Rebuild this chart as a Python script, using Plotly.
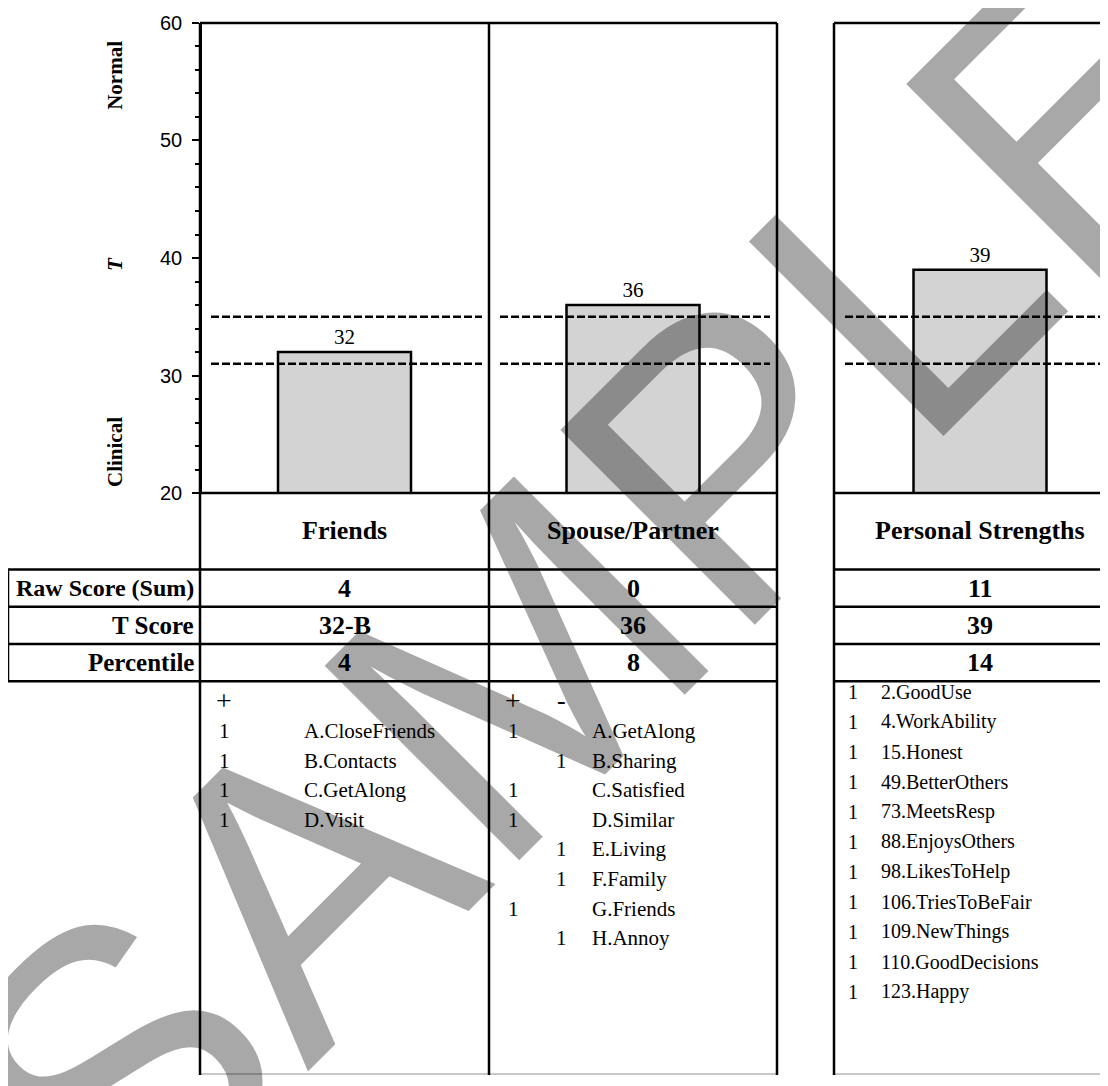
import plotly.graph_objects as go

# ---------------- data ----------------
categories = ["Friends", "Spouse/Partner", "Personal Strengths"]
t_scores = [32, 36, 39]
raw_scores = ["4", "0", "11"]
t_score_labels = ["32-B", "36", "39"]
percentiles = ["4", "8", "14"]
row_labels = ["Raw Score (Sum)", "T Score", "Percentile"]

upper_cut = 35
lower_cut = 31

friends_items = ["A.CloseFriends", "B.Contacts", "C.GetAlong", "D.Visit"]
friends_plus = ["1", "1", "1", "1"]

spouse_items = ["A.GetAlong", "B.Sharing", "C.Satisfied", "D.Similar",
                "E.Living", "F.Family", "G.Friends", "H.Annoy"]
spouse_plus = ["1", "", "1", "1", "", "", "1", ""]
spouse_minus = ["", "1", "", "", "1", "1", "", "1"]

strength_items = ["2.GoodUse", "4.WorkAbility", "15.Honest", "49.BetterOthers",
                  "73.MeetsResp", "88.EnjoysOthers", "98.LikesToHelp",
                  "106.TriesToBeFair", "109.NewThings", "110.GoodDecisions",
                  "123.Happy"]
strength_vals = ["1", "1", "1", "1", "1", "1", "1", "1", "1", "1", "1"]

# ---------------- layout constants (page pixels) ----------------
PAGE_W, PAGE_H = 1108, 1086
OFF = 8                      # default body margin of the html page
FIG_W, FIG_H = PAGE_W - OFF, PAGE_H - OFF
PANELS = [(200, 489), (489, 777), (834, 1126)]
Y_TOP, Y_BOT = 12, 492
ROW_LINES = [570, 608, 646, 684]
HEADER_Y = 530
LIST_BOTTOM = 1085
LABEL_LEFT = 8

SERIF = "Liberation Serif"
SANS = "Liberation Sans"


def px(x):
    return (x - OFF) / FIG_W


def py(y):
    return 1 - (y - OFF) / FIG_H


centers = [(a + b) / 2 for a, b in PANELS]

fig = go.Figure()
fig.add_trace(go.Bar(
    x=centers, y=t_scores, width=133,
    marker=dict(color="#d3d3d3", line=dict(color="black", width=2.5)),
    texttemplate="%{y}", textposition="outside",
    textfont=dict(family=SERIF, size=21, color="black"),
    hoverinfo="skip", showlegend=False,
))

shapes = []
BLACK = dict(color="black", width=2.5)


def hline(x0, x1, y, line=BLACK):
    shapes.append(dict(type="line", xref="paper", yref="paper",
                       x0=px(x0), x1=px(min(x1, PAGE_W)), y0=py(y), y1=py(y), line=line))


def vline(x, y0, y1, line=BLACK):
    shapes.append(dict(type="line", xref="paper", yref="paper",
                       x0=px(x), x1=px(x), y0=py(y0), y1=py(y1), line=line))


for a, b in PANELS:
    for y in [Y_TOP, Y_BOT] + ROW_LINES:
        hline(a, b, y)
    hline(a, b, LIST_BOTTOM, dict(color="#c8c8c8", width=2))
    for cut in (upper_cut, lower_cut):
        shapes.append(dict(type="line", xref="paper", yref="y",
                           x0=px(a + 11), x1=px(min(b - 7, PAGE_W)), y0=cut, y1=cut,
                           line=dict(color="black", width=2.5, dash="8px,3px")))

for x in [200, 489, 777, 834]:
    vline(x, Y_TOP, PAGE_H)

# row label box
for y in ROW_LINES:
    hline(LABEL_LEFT, 200, y)
vline(LABEL_LEFT, ROW_LINES[0], ROW_LINES[-1])

ann = []


def text(x, y, s, size, xanchor="center", family=SERIF, bold=False, angle=0):
    if bold:
        s = "<b>" + s + "</b>"
    ann.append(dict(xref="paper", yref="paper", x=px(x), y=py(y), text=s,
                    showarrow=False, xanchor=xanchor, yanchor="middle",
                    textangle=angle,
                    font=dict(family=family, size=size, color="black")))


# axis side labels
text(115, 66, "Normal", 21, bold=True, angle=-90)
text(115, 258, "<i>T</i>", 21, bold=True, angle=-90)
text(115, 450, "Clinical", 21, bold=True, angle=-90)

# headers and values
row_centers = [(ROW_LINES[i] + ROW_LINES[i + 1]) / 2 for i in range(3)]
for i, c in enumerate(centers):
    text(c, HEADER_Y, categories[i], 26, bold=True)
    for j, vals in enumerate([raw_scores, t_score_labels, percentiles]):
        text(c, row_centers[j], vals[i], 26, bold=True)

label_sizes = [24, 25, 25]
for j, lab in enumerate(row_labels):
    text(196, row_centers[j], lab, label_sizes[j], xanchor="right", bold=True)

# item lists
LIST_HEAD_Y = 704
LIST_Y0 = 735
LIST_DY = 30.2

p1 = PANELS[0][0]
text(p1 + 24, LIST_HEAD_Y, "+", 28)
for i, (v, it) in enumerate(zip(friends_plus, friends_items)):
    y = LIST_Y0 + i * LIST_DY
    text(p1 + 24, y, v, 21)
    text(p1 + 102, y, it, 21, xanchor="left")

p2 = PANELS[1][0]
text(p2 + 24, LIST_HEAD_Y, "+", 28)
text(p2 + 72, LIST_HEAD_Y, "-", 26)
for i, (vp, vm, it) in enumerate(zip(spouse_plus, spouse_minus, spouse_items)):
    y = LIST_Y0 + i * LIST_DY
    if vp:
        text(p2 + 24, y, vp, 21)
    if vm:
        text(p2 + 72, y, vm, 21)
    text(p2 + 101, y, it, 21, xanchor="left")

p3 = PANELS[2][0]
for i, (v, it) in enumerate(zip(strength_vals, strength_items)):
    y = 695 + i * 30.6
    text(p3 + 19, y, v, 20)
    text(p3 + 45, y, it, 20, xanchor="left")

# watermark
ann.append(dict(xref="paper", yref="paper", x=px(594), y=py(590), text="SAMPLE",
                showarrow=False, xanchor="center", yanchor="middle", textangle=-45,
                font=dict(family=SANS, size=400, color="rgba(0,0,0,0.34)")))

fig.update_layout(
    width=FIG_W, height=FIG_H, autosize=False,
    margin=dict(l=0, r=0, t=0, b=0, pad=0),
    paper_bgcolor="white", plot_bgcolor="rgba(0,0,0,0)",
    showlegend=False,
    xaxis=dict(domain=[0, 1], range=[OFF, OFF + FIG_W], visible=False, fixedrange=True),
    yaxis=dict(domain=[py(Y_BOT), py(Y_TOP)], range=[20, 60],
               anchor="free", position=px(200),
               tick0=20, dtick=10, ticks="outside", ticklen=7, tickwidth=2,
               tickcolor="black", showline=True, linecolor="black", linewidth=2.5,
               showgrid=False, zeroline=False, ticklabelstandoff=6,
               ticklabeloverflow="allow",
               tickfont=dict(family=SANS, size=20, color="black"),
               minor=dict(dtick=2, ticks="outside", ticklen=4, tickwidth=2,
                          tickcolor="black", showgrid=False)),
    shapes=shapes,
    annotations=ann,
)

fig.write_html("out.html")
